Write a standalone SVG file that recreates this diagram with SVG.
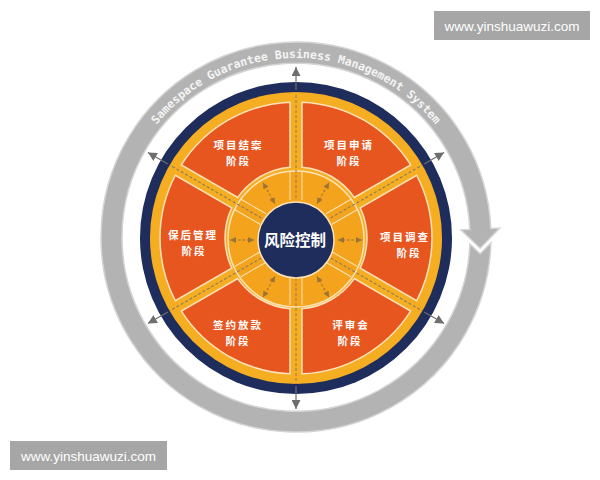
<svg xmlns="http://www.w3.org/2000/svg" width="600" height="480" viewBox="0 0 600 480">
<style>
.sec{fill:#E8561F;stroke:#FCE2B8;stroke-width:1.5}
.lbl{font-family:"Noto Sans CJK SC","Noto Sans",sans-serif;font-weight:bold;font-size:10.5px;letter-spacing:2px;fill:#FFFFFF;text-anchor:middle}
.wm{font-family:"Liberation Sans",Arial,sans-serif;font-size:13.5px;fill:#FFFFFF;text-anchor:middle}
.spk{stroke:#8C7B5E;stroke-width:1;stroke-dasharray:3 2;fill:none}
.out{stroke:#6E6E6E;stroke-width:1.2;fill:none;marker-end:url(#ga)}
.edge{stroke:#FCE2B8;stroke-width:1;fill:none}
.hubarr{stroke:#9A7434;stroke-width:1;stroke-dasharray:2.5 2;fill:none;marker-start:url(#ha);marker-end:url(#ha)}
</style>
<defs>
<marker id="ga" viewBox="0 0 10 10" refX="10" refY="5" markerUnits="userSpaceOnUse" markerWidth="9" markerHeight="9" orient="auto"><path d="M0,0 L10,5 L0,10 Z" fill="#6E6E6E"/></marker>
<marker id="ha" viewBox="0 0 10 10" refX="10" refY="5" markerUnits="userSpaceOnUse" markerWidth="6" markerHeight="6" orient="auto-start-reverse"><path d="M0,0 L10,5 L0,10 Z" fill="#9A7434"/></marker>
<path id="ringText" d="M133.77,161.35 A179,179 0 0 1 458.23,161.35"/>
<path id="sector" d="M302.00,102.13 A136,136 0 0 1 410.67,164.88 L354.27,197.43 A71,71 0 0 0 302.00,167.25 Z"/>
</defs>
<rect width="600" height="480" fill="#FFFFFF"/>

<g id="gray-ring">
<path d="M490.91,243.0 A195,195 0 1 1 490.81,228.49 L499.81,228.10 L480.16,248.26 L460.84,229.80 L469.83,229.41 A174,174 0 1 0 469.88,243.96 L480.2,253.8 Z" fill="#B3B3B3" stroke="#D4D4D4" stroke-width="1.5"/>
<text font-family="DejaVu Sans Mono,Liberation Mono,monospace" font-weight="bold" font-size="11.5" fill="#F4F4F4"><textPath href="#ringText" startOffset="50%" text-anchor="middle">Samespace Guarantee Business Management System</textPath></text>
</g>

<g id="wheel-base">
<circle cx="296" cy="238" r="156" fill="#1E2D5C"/>
<circle cx="296" cy="238" r="146" fill="#F5AD22"/>
</g>

<g id="sectors">
<g id="node-xiangmushenqing"><use href="#sector" class="sec"/><text class="lbl"><tspan x="349" y="149">项目申请</tspan><tspan x="349" y="164.5">阶段</tspan></text></g>
<g id="node-xiangmudiaocha"><use href="#sector" class="sec" transform="rotate(60 296 238)"/><text class="lbl"><tspan x="405" y="241">项目调查</tspan><tspan x="409" y="256.5">阶段</tspan></text></g>
<g id="node-pingshenhui"><use href="#sector" class="sec" transform="rotate(120 296 238)"/><text class="lbl"><tspan x="351" y="329">评审会</tspan><tspan x="350" y="344.5">阶段</tspan></text></g>
<g id="node-qianyuefangkuan"><use href="#sector" class="sec" transform="rotate(180 296 238)"/><text class="lbl"><tspan x="238" y="329">签约放款</tspan><tspan x="238" y="344.5">阶段</tspan></text></g>
<g id="node-baohouguanli"><use href="#sector" class="sec" transform="rotate(240 296 238)"/><text class="lbl"><tspan x="193" y="239">保后管理</tspan><tspan x="194" y="254.5">阶段</tspan></text></g>
<g id="node-xiangmujiean"><use href="#sector" class="sec" transform="rotate(300 296 238)"/><text class="lbl"><tspan x="238.5" y="149">项目结案</tspan><tspan x="238.5" y="164.5">阶段</tspan></text></g>
</g>

<g id="hub">
<circle cx="296" cy="239" r="68" fill="#F3A41C" stroke="#FCE2B8" stroke-width="1.5"/>
</g>

<g id="connectors">
<g id="spoke-top"><path class="edge" d="M290,200 V171 M302,200 V171"/><path class="spk" d="M296,198 V92"/><path class="out" d="M296,90 V67"/></g>
<g transform="rotate(60 296 238)"><path class="edge" d="M290,200 V171 M302,200 V171"/><path class="spk" d="M296,198 V92"/><path class="out" d="M296,90 V67"/></g>
<g transform="rotate(120 296 238)"><path class="edge" d="M290,200 V171 M302,200 V171"/><path class="spk" d="M296,198 V92"/><path class="out" d="M296,90 V67"/></g>
<g transform="rotate(180 296 238)"><path class="edge" d="M290,200 V171 M302,200 V171"/><path class="spk" d="M296,198 V92"/><path class="out" d="M296,90 V67"/></g>
<g transform="rotate(240 296 238)"><path class="edge" d="M290,200 V171 M302,200 V171"/><path class="spk" d="M296,198 V92"/><path class="out" d="M296,90 V67"/></g>
<g transform="rotate(300 296 238)"><path class="edge" d="M290,200 V171 M302,200 V171"/><path class="spk" d="M296,198 V92"/><path class="out" d="M296,90 V67"/></g>
<path class="hubarr" d="M296,198 V174" transform="rotate(30 296 240)"/>
<path class="hubarr" d="M296,198 V174" transform="rotate(90 296 240)"/>
<path class="hubarr" d="M296,198 V174" transform="rotate(150 296 240)"/>
<path class="hubarr" d="M296,198 V174" transform="rotate(210 296 240)"/>
<path class="hubarr" d="M296,198 V174" transform="rotate(270 296 240)"/>
<path class="hubarr" d="M296,198 V174" transform="rotate(330 296 240)"/>
</g>

<g id="node-center">
<circle cx="296" cy="240" r="38" fill="#1E2D5C" stroke="#FCE2B8" stroke-width="1.5"/>
<text x="295" y="246" font-family="Noto Sans CJK SC,Noto Sans,sans-serif" font-weight="bold" font-size="15.5" fill="#FFFFFF" text-anchor="middle">风险控制</text>
</g>

<g id="watermarks">
<rect x="434" y="11" width="156" height="29" fill="#A6A6A6"/>
<text class="wm" x="512" y="30.5">www.yinshuawuzi.com</text>
<rect x="10" y="441" width="157" height="29" fill="#A6A6A6"/>
<text class="wm" x="88.5" y="460.5">www.yinshuawuzi.com</text>
</g>
</svg>
